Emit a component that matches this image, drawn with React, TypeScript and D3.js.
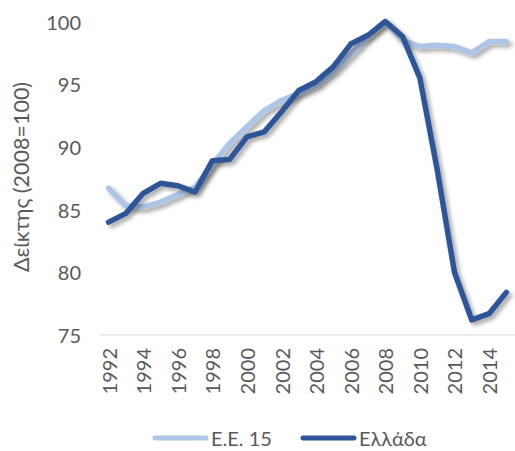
import React from "react";
import * as d3 from "d3";

const years = d3.range(1992, 2016).map(String);
const eu15 = [86.7, 85.3, 85.2, 85.6, 86.2, 86.8, 88.6, 90.3, 91.6, 92.9, 93.7, 94.3, 94.9, 96.0, 97.4, 98.8, 100, 98.5, 98.0, 98.1, 98.0, 97.5, 98.4, 98.4];
const greece = [84.0, 84.7, 86.3, 87.1, 86.9, 86.4, 88.9, 89.0, 90.8, 91.2, 92.8, 94.5, 95.2, 96.4, 98.2, 98.9, 100, 98.8, 95.5, 88.2, 80.0, 76.2, 76.7, 78.4];
const yTicks = [75, 80, 85, 90, 95, 100];
const xTickLabels = years.filter((_, i) => i % 2 === 0);
const seriesNames = ["Ε.Ε. 15", "Ελλάδα"];
const seriesColors = ["#adc5e7", "#2f5597"];

export default function App() {
  const W = 515, H = 451;
  const x = d3.scaleBand().domain(years).range([100, 515]);
  const y = d3.scaleLinear().domain([75, 100]).range([335, 21.5]);
  const line = d3.line<number>()
    .x((_, i) => (x(years[i]) as number) + x.bandwidth() / 2)
    .y(d => y(d));
  const font = "Lato, 'Open Sans', sans-serif";
  const txt = "#595959";
  const series = [eu15, greece];
  const legendX = [155, 303];
  return (
    <svg width={W} height={H} style={{ position: "absolute", left: 0, top: 0, background: "#fff" }}>
      <defs>
        <filter id="sh" x="-10%" y="-10%" width="130%" height="130%">
          <feDropShadow dx="3" dy="3" stdDeviation="2" floodColor="#000" floodOpacity="0.35" />
        </filter>
      </defs>
      <line x1={100} x2={515} y1={y(75)} y2={y(75)} stroke="#d9d9d9" strokeWidth={1} />
      {yTicks.map(t => (
        <text key={t} x={81} y={y(t)} textAnchor="end" dominantBaseline="central" fontSize={20} fill={txt} fontFamily={font}>{t}</text>
      ))}
      {xTickLabels.map(l => {
        const cx = (x(l) as number) + x.bandwidth() / 2;
        return (
          <text key={l} transform={`translate(${cx},${348}) rotate(-90)`} textAnchor="end" dominantBaseline="central" fontSize={20} fill={txt} fontFamily={font}>{l}</text>
        );
      })}
      <text transform={`translate(21,177) rotate(-90)`} textAnchor="middle" dominantBaseline="central" fontSize={21.5} fill={txt} fontFamily={font}>Δείκτης (2008=100)</text>
      {series.map((s, i) => (
        <path key={i} d={line(s) || ""} fill="none" stroke={seriesColors[i]} strokeWidth={5.5} strokeLinejoin="round" strokeLinecap="round" filter="url(#sh)" />
      ))}
      {seriesNames.map((n, i) => (
        <g key={n}>
          <line x1={legendX[i]} x2={legendX[i] + 51} y1={438} y2={438} stroke={seriesColors[i]} strokeWidth={5} strokeLinecap="round" />
          <text x={legendX[i] + 56} y={438} dominantBaseline="central" fontSize={20} fill={txt} fontFamily={font}>{n}</text>
        </g>
      ))}
    </svg>
  );
}
